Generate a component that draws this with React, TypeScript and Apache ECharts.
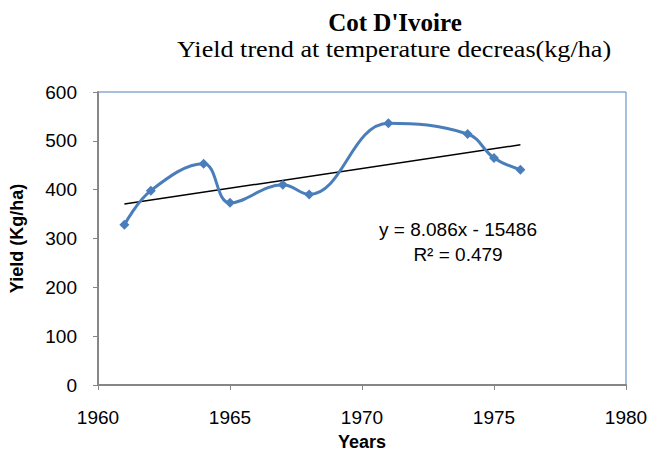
import React, { useEffect, useRef } from "react";
import * as echarts from "echarts";

const years = [1961, 1962, 1964, 1965, 1967, 1968, 1971, 1974, 1975, 1976];
const yields = [328, 398, 453, 373, 410, 390, 536, 514, 465, 441];
const trendYears = [1961, 1976];
const trendValues = [370.6, 491.9];
const xTicks = { min: 1960, max: 1980, step: 5 };
const yTicks = { min: 0, max: 600, step: 100 };
const titleText = "Cot D'Ivoire";
const subtitleText = "Yield trend at temperature decreas(kg/ha)";
const equationText = "y = 8.086x - 15486";
const r2Text = "R² = 0.479";

const sans = "'Liberation Sans', Arial, sans-serif";
const serif = "'Liberation Serif', 'Times New Roman', serif";

export default function App() {
  const ref = useRef<HTMLDivElement>(null);
  useEffect(() => {
    if (!ref.current) return;
    const chart = echarts.init(ref.current, undefined, { renderer: "svg" });
    chart.setOption({
      animation: false,
      backgroundColor: "#ffffff",
      grid: {
        left: 98,
        right: 25,
        top: 92,
        bottom: 70,
        show: true,
        borderColor: "#4F81BD",
        borderWidth: 1,
      },
      xAxis: {
        type: "value",
        min: xTicks.min,
        max: xTicks.max,
        interval: xTicks.step,
        name: "Years",
        nameLocation: "middle",
        nameGap: 48,
        nameTextStyle: { fontFamily: sans, fontWeight: "bold", fontSize: 18, color: "#000" },
        axisLine: { show: true, lineStyle: { color: "#868686", width: 2 } },
        axisTick: { show: true, inside: false, length: 5, lineStyle: { color: "#868686" } },
        axisLabel: {
          fontFamily: sans,
          fontSize: 19,
          color: "#000",
          margin: 23,
          formatter: (v: number) => String(v),
        },
        splitLine: { show: false },
      },
      yAxis: {
        type: "value",
        min: yTicks.min,
        max: yTicks.max,
        interval: yTicks.step,
        name: "Yield (Kg/ha)",
        nameLocation: "middle",
        nameGap: 72,
        nameRotate: 90,
        nameTextStyle: { fontFamily: sans, fontWeight: "bold", fontSize: 18, color: "#000" },
        axisLine: { show: true, lineStyle: { color: "#868686", width: 2 } },
        axisTick: { show: true, inside: false, length: 5, lineStyle: { color: "#868686" } },
        axisLabel: { fontFamily: sans, fontSize: 19, color: "#000", margin: 21 },
        splitLine: { show: false },
      },
      graphic: [
        {
          type: "text",
          x: 395,
          y: 22,
          style: {
            text: titleText,
            align: "center",
            verticalAlign: "middle",
            font: `bold 25px ${serif}`,
            fill: "#000",
          },
        },
        {
          type: "text",
          x: 394,
          y: 49,
          scaleX: 1.09,
          style: {
            text: subtitleText,
            align: "center",
            verticalAlign: "middle",
            font: `24px ${serif}`,
            fill: "#000",
          },
        },
        {
          type: "text",
          x: 458,
          y: 229,
          style: {
            text: equationText,
            align: "center",
            verticalAlign: "middle",
            font: `19px ${sans}`,
            fill: "#000",
          },
        },
        {
          type: "text",
          x: 458,
          y: 254,
          style: {
            text: r2Text,
            align: "center",
            verticalAlign: "middle",
            font: `19px ${sans}`,
            fill: "#000",
          },
        },
      ],
      series: [
        {
          type: "line",
          data: years.map((y, i) => [y, yields[i]]),
          smooth: 0.4,
          symbol: "diamond",
          symbolSize: 10,
          itemStyle: { color: "#4A7EBB" },
          lineStyle: { color: "#4A7EBB", width: 3 },
          z: 3,
        },
        {
          type: "line",
          data: trendYears.map((y, i) => [y, trendValues[i]]),
          symbol: "none",
          lineStyle: { color: "#000", width: 1.5 },
          z: 2,
        },
      ],
    });
    return () => chart.dispose();
  }, []);
  return <div ref={ref} style={{ width: 651, height: 456, position: "absolute", left: 0, top: 0 }} />;
}
